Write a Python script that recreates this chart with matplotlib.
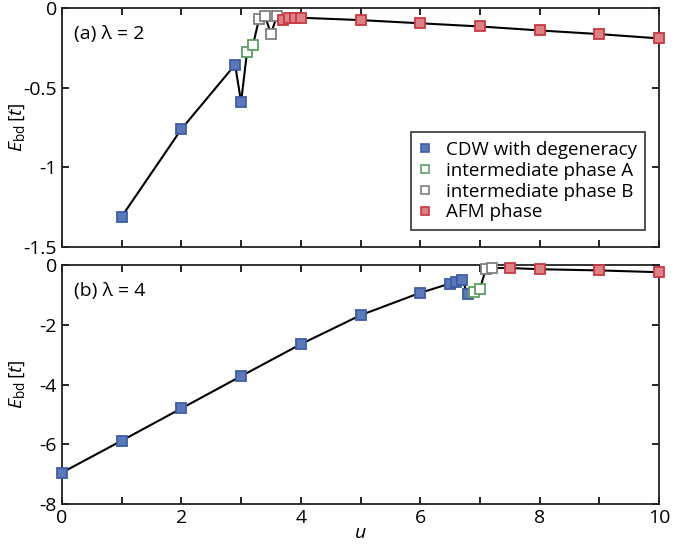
import numpy as np
import matplotlib
matplotlib.use('Agg')
import matplotlib.pyplot as plt
from matplotlib.lines import Line2D
from matplotlib.ticker import MultipleLocator

plt.rcParams['font.family'] = ['Open Sans', 'DejaVu Sans']
plt.rcParams['mathtext.fontset'] = 'custom'
plt.rcParams['mathtext.rm'] = 'Open Sans'
plt.rcParams['mathtext.it'] = 'Open Sans:italic'

# panel (a): lambda = 2
u_a = [1, 2, 2.9, 3.0, 3.1, 3.2, 3.3, 3.4, 3.5, 3.6, 3.7, 3.8, 3.9, 4.0, 5, 6, 7, 8, 9, 10]
E_a = [-1.31, -0.76, -0.355, -0.59, -0.275, -0.23, -0.07, -0.05, -0.16, -0.05,
       -0.075, -0.06, -0.06, -0.06, -0.075, -0.095, -0.115, -0.14, -0.163, -0.19]
phase_a = ['CDW'] * 4 + ['A'] * 2 + ['B'] * 4 + ['AFM'] * 10

# panel (b): lambda = 4
u_b = [0, 1, 2, 3, 4, 5, 6, 6.5, 6.6, 6.7, 6.8, 6.9, 7.0, 7.1, 7.2, 7.5, 8, 9, 10]
E_b = [-6.95, -5.88, -4.8, -3.72, -2.65, -1.68, -0.93, -0.62, -0.58, -0.5,
       -0.98, -0.9, -0.8, -0.12, -0.1, -0.1, -0.14, -0.18, -0.24]
phase_b = ['CDW'] * 11 + ['A'] * 2 + ['B'] * 2 + ['AFM'] * 4

phase_names = ['CDW', 'A', 'B', 'AFM']
phase_labels = ['CDW with degeneracy', 'intermediate phase A',
                'intermediate phase B', 'AFM phase']
styles = {
    'CDW': dict(mfc='#5b78b8', mec='#3f5da3'),
    'A': dict(mfc='white', mec='#5e9e62'),
    'B': dict(mfc='white', mec='#7f7f7f'),
    'AFM': dict(mfc='#dc8186', mec='#c73a42'),
}
ms = 7.5

fig = plt.figure(figsize=(6.88, 5.44), dpi=100)
ax1 = fig.add_axes([0.090, 0.546, 0.868, 0.439])
ax2 = fig.add_axes([0.090, 0.0735, 0.868, 0.4393])


def draw(ax, u, E, phase):
    ax.plot(u, E, color='black', lw=1.5, zorder=2)
    u = np.array(u)
    E = np.array(E)
    phase = np.array(phase)
    for p in phase_names:
        m = phase == p
        if m.any():
            ax.plot(u[m], E[m], ls='none', marker='s', ms=ms, mew=1.3,
                    zorder=3, clip_on=False, **styles[p])
    ax.set_xlim(0, 10)
    ax.xaxis.set_major_locator(MultipleLocator(2))
    ax.xaxis.set_minor_locator(MultipleLocator(1))
    ax.tick_params(which='both', direction='in', top=True, right=True,
                   labelsize=14, width=1.2, length=5)
    for s in ax.spines.values():
        s.set_linewidth(1.3)
        s.set_color('#222222')
    ax.set_ylabel(r'$E_{\rm bd}\,[t]$', fontsize=14)
    ax.yaxis.set_label_coords(-0.058, 0.5)


draw(ax1, u_a, E_a, phase_a)
ax1.set_ylim(-1.5, 0)
ax1.set_yticks([0, -0.5, -1, -1.5])
ax1.set_yticklabels(['0', '-0.5', '-1', '-1.5'])
ax1.tick_params(labelbottom=False)
ax1.text(0.02, 0.93, '(a) λ = 2', transform=ax1.transAxes, fontsize=14, va='top')

handles = [Line2D([], [], ls='none', marker='s', ms=6, mew=1.2, **styles[p])
           for p in phase_names]
leg = ax1.legend(handles, phase_labels, loc='lower right',
                 bbox_to_anchor=(0.9765, 0.072), borderaxespad=0,
                 fontsize=13.5, frameon=True, fancybox=False, edgecolor='black',
                 handlelength=0.6, handletextpad=0.8, borderpad=0.45,
                 labelspacing=0.15)
leg.get_frame().set_linewidth(1.2)

draw(ax2, u_b, E_b, phase_b)
ax2.set_ylim(-8, 0)
ax2.set_yticks([0, -2, -4, -6, -8])
ax2.set_yticklabels(['0', '-2', '-4', '-6', '-8'])
ax2.set_xticks([0, 2, 4, 6, 8, 10])
ax2.set_xlabel('$u$', fontsize=14, labelpad=-2)
ax2.text(0.02, 0.93, '(b) λ = 4', transform=ax2.transAxes, fontsize=14, va='top')

fig.savefig('out.png', dpi=100)
